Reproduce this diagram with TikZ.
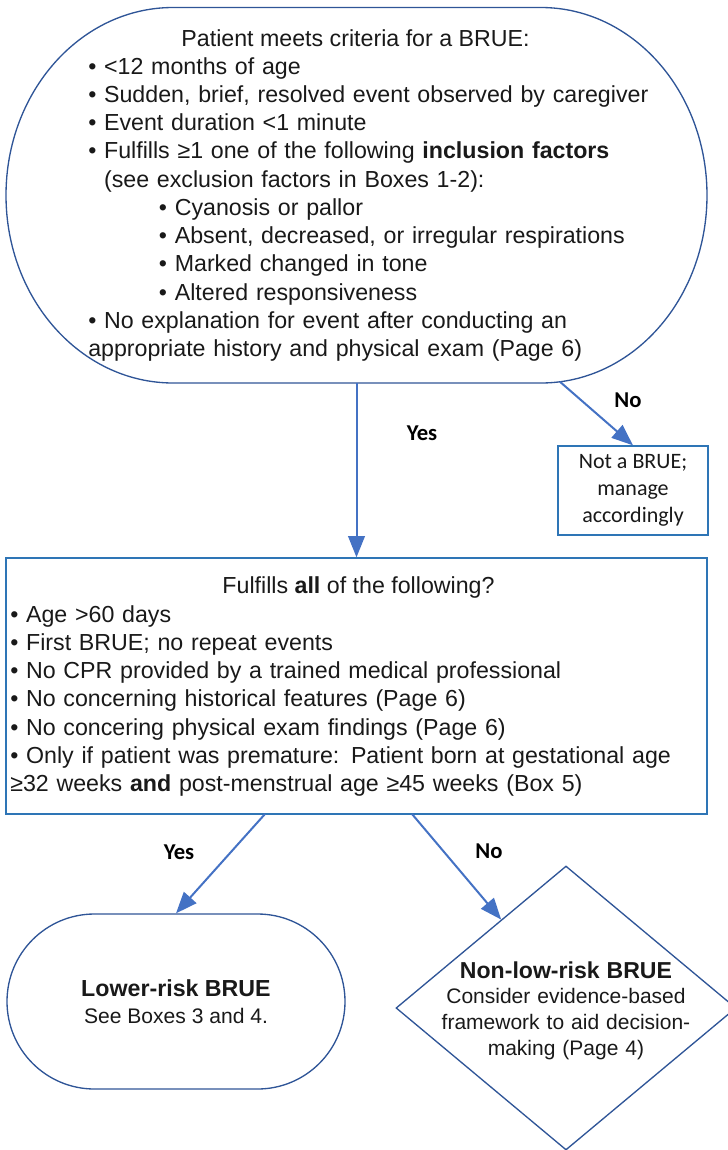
\documentclass[tikz,border=0pt]{standalone}
\usepackage{fontspec}
\setmainfont{Liberation Sans}
\newfontfamily\calfont{Carlito}
\usetikzlibrary{arrows.meta,positioning,shapes.geometric,shapes.misc,calc}
\definecolor{critblue}{RGB}{47,85,151}
\definecolor{boxblue}{RGB}{46,117,182}
\definecolor{arrowblue}{RGB}{68,114,196}

\begin{document}
\begin{tikzpicture}[x=0.75pt,y=0.75pt,
   txt/.style={inner sep=0pt,text=black!90,font={\fontsize{17.4}{21.2}\selectfont}},
   head/.style={txt,anchor=base},
   list/.style={txt,anchor=base west,text width=500pt,align=left},
   answer/.style={inner sep=0pt,anchor=base,font={\calfont\bfseries\fontsize{17}{20}\selectfont}},
   outline/.style={draw=critblue,line width=1pt},
   boxline/.style={draw=boxblue,line width=1pt,inner sep=0pt},
   arr/.style={draw=arrowblue,line width=1.5pt,-{Triangle[length=16pt,width=12.5pt]}}]
  \useasboundingbox (0,0) rectangle (728,-1150);

  % entry criteria
  \draw[outline] (173,-7.5) -- (541,-7.5)
     arc[start angle=90,end angle=-90,x radius=166,y radius=187.75]
     -- (173,-383)
     arc[start angle=270,end angle=90,x radius=167,y radius=187.75] -- cycle;
  \coordinate (critS) at (356.5,-383);
  \coordinate (critSE) at (560,-381.8);
  \node[head] (critT) at (355.5,-46) {Patient meets criteria for a BRUE:};
  \node[list] (critL) at (88,-74)
       {• <12 months of age\\
        • Sudden, brief, resolved event observed by caregiver\\
        • Event duration <1 minute\\
        • Fulfills ≥1 one of the following \textbf{inclusion factors}\\
        \phantom{• }(see exclusion factors in Boxes 1-2):\\
        \hspace*{53pt}• Cyanosis or pallor\\
        \hspace*{53pt}• Absent, decreased, or irregular respirations\\
        \hspace*{53pt}• Marked changed in tone\\
        \hspace*{53pt}• Altered responsiveness\\
        • No explanation for event after conducting an\\
        appropriate history and physical exam (Page 6)};

  \node[boxline,font={\calfont\fontsize{16.5}{20.25}\selectfont},text=black!90,align=center,
        minimum width=112.5pt,minimum height=66.75pt] (notbrue) at (633,-490.5)
       {Not a BRUE;\\manage\\accordingly};

  % low-risk check
  \node[boxline,minimum width=525.75pt,minimum height=192pt] (allq) at (356.5,-686) {};
  \coordinate (allqY) at (265,-814);
  \coordinate (allqN) at (412,-814);
  \node[head] (allqT) at (358.5,-593) {Fulfills \textbf{all} of the following?};
  \node[list] (allqL) at (10,-622)
       {• Age >60 days\\
        • First BRUE; no repeat events\\
        • No CPR provided by a trained medical professional\\
        • No concerning historical features (Page 6)\\
        • No concering physical exam findings (Page 6)\\
        • Only if patient was premature: Patient born at gestational age\\
        ≥32 weeks \textbf{and} post-menstrual age ≥45 weeks (Box 5)};

  % outcomes
  \node[rounded rectangle,outline,inner sep=0pt,minimum width=253.5pt,minimum height=131.25pt,
        align=center,text=black!90,font={\fontsize{15.8}{20.25}\selectfont}] (lowrisk) at (176,-1001.5)
       {{\bfseries\fontsize{17.4}{20.25}\selectfont Lower-risk BRUE}\\See Boxes 3 and 4.};
  \node[diamond,outline,inner sep=0pt,minimum width=255pt,minimum height=213pt] (nonlow) at (566,-1008) {};
  \node[txt,anchor=base,text width=220pt,align=center,font={\fontsize{15.75}{19.3}\selectfont}]
       (nonlowT) at (566,-978)
       {{\bfseries\fontsize{17.3}{19.3}\selectfont Non-low-risk BRUE}\\
        Consider evidence-based\\framework to aid decision-\\making (Page 4)};

  \node[answer] (yes1) at (422,-440) {Yes};
  \node[answer] (no1) at (628,-407) {No};
  \node[answer] (yes2) at (179,-859) {Yes};
  \node[answer] (no2) at (489,-858) {No};

  \draw[arr] (critS) -- (allq.north);
  \draw[arr] (critSE) -- (notbrue.north);
  \draw[arr] (allqY) -- (lowrisk.north);
  \draw[arr] (allqN) -- ($(nonlow.north)!0.38!(nonlow.west)$);
\end{tikzpicture}
\end{document}
